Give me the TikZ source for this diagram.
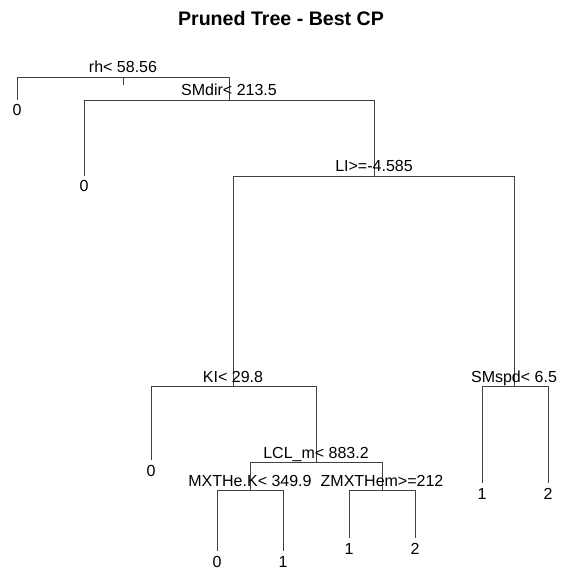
\documentclass[tikz,border=0pt]{standalone}
\usepackage{fontspec}
\setmainfont{Liberation Sans}

\begin{document}
\begin{tikzpicture}[x=1pt, y=-1pt,
    ramo/.style={draw=black!75, line width=0.9pt},
    corte/.style={anchor=base, inner sep=0pt, font=\fontsize{16}{19}\selectfont},
    folha/.style={anchor=base, inner sep=0pt, font=\fontsize{16}{19}\selectfont}]
    \useasboundingbox (0,0) rectangle (561,569);

    % Titulo
    \node[anchor=base, inner sep=0pt, font=\bfseries\fontsize{19.6}{23}\selectfont] (titulo) at (281,26) {Pruned Tree - Best CP};

    % Nos de divisao
    \coordinate (rh) at (123,77);
    \coordinate (raiz) at (123,85);
    \coordinate (smdir) at (229,100);
    \coordinate (li) at (374,176);
    \coordinate (ki) at (233,386);
    \coordinate (smspd) at (514,386);
    \coordinate (lcl) at (316,462);
    \coordinate (mxt) at (250,490);
    \coordinate (zmx) at (382,490);

    % Folhas e classes
    \foreach \n/\x/\y/\c in {f1/17/100/0, f2/84/176/0, f3/151/460/0, f4/217/551/0,
        f5/283/551/1, f6/349/538/1, f7/415/538/2, f8/482/483/1, f9/548/483/2} {
        \coordinate (\n) at (\x,\y);
        \node[folha] (t\n) at ([yshift=-16pt]\n) {\c};
    }

    % Ramos
    \draw[ramo] (rh) -- (raiz);
    \draw[ramo] (rh) -| (f1);
    \draw[ramo] (rh) -| (smdir);
    \draw[ramo] (smdir) -| (f2);
    \draw[ramo] (smdir) -| (li);
    \draw[ramo] (li) -| (ki);
    \draw[ramo] (li) -| (smspd);
    \draw[ramo] (ki) -| (f3);
    \draw[ramo] (ki) -| (lcl);
    \draw[ramo] (lcl) -| (mxt);
    \draw[ramo] (lcl) -| (zmx);
    \draw[ramo] (mxt) -| (f4);
    \draw[ramo] (mxt) -| (f5);
    \draw[ramo] (zmx) -| (f6);
    \draw[ramo] (zmx) -| (f7);
    \draw[ramo] (smspd) -| (f8);
    \draw[ramo] (smspd) -| (f9);

    % Regras de divisao
    \node[corte] (trh) at ([yshift=4pt]rh) {rh< 58.56};
    \node[corte] (tsmdir) at ([yshift=4pt]smdir) {SMdir< 213.5};
    \node[corte] (tli) at ([yshift=4pt]li) {LI>=-4.585};
    \node[corte] (tki) at ([yshift=4pt]ki) {KI< 29.8};
    \node[corte] (tsmspd) at ([yshift=4pt]smspd) {SMspd< 6.5};
    \node[corte] (tlcl) at ([yshift=4pt]lcl) {LCL\_m< 883.2};
    \node[corte] (tmxt) at ([yshift=4pt]mxt) {MXTHe.K< 349.9};
    \node[corte] (tzmx) at ([yshift=4pt]zmx) {ZMXTHem>=212};
\end{tikzpicture}
\end{document}
